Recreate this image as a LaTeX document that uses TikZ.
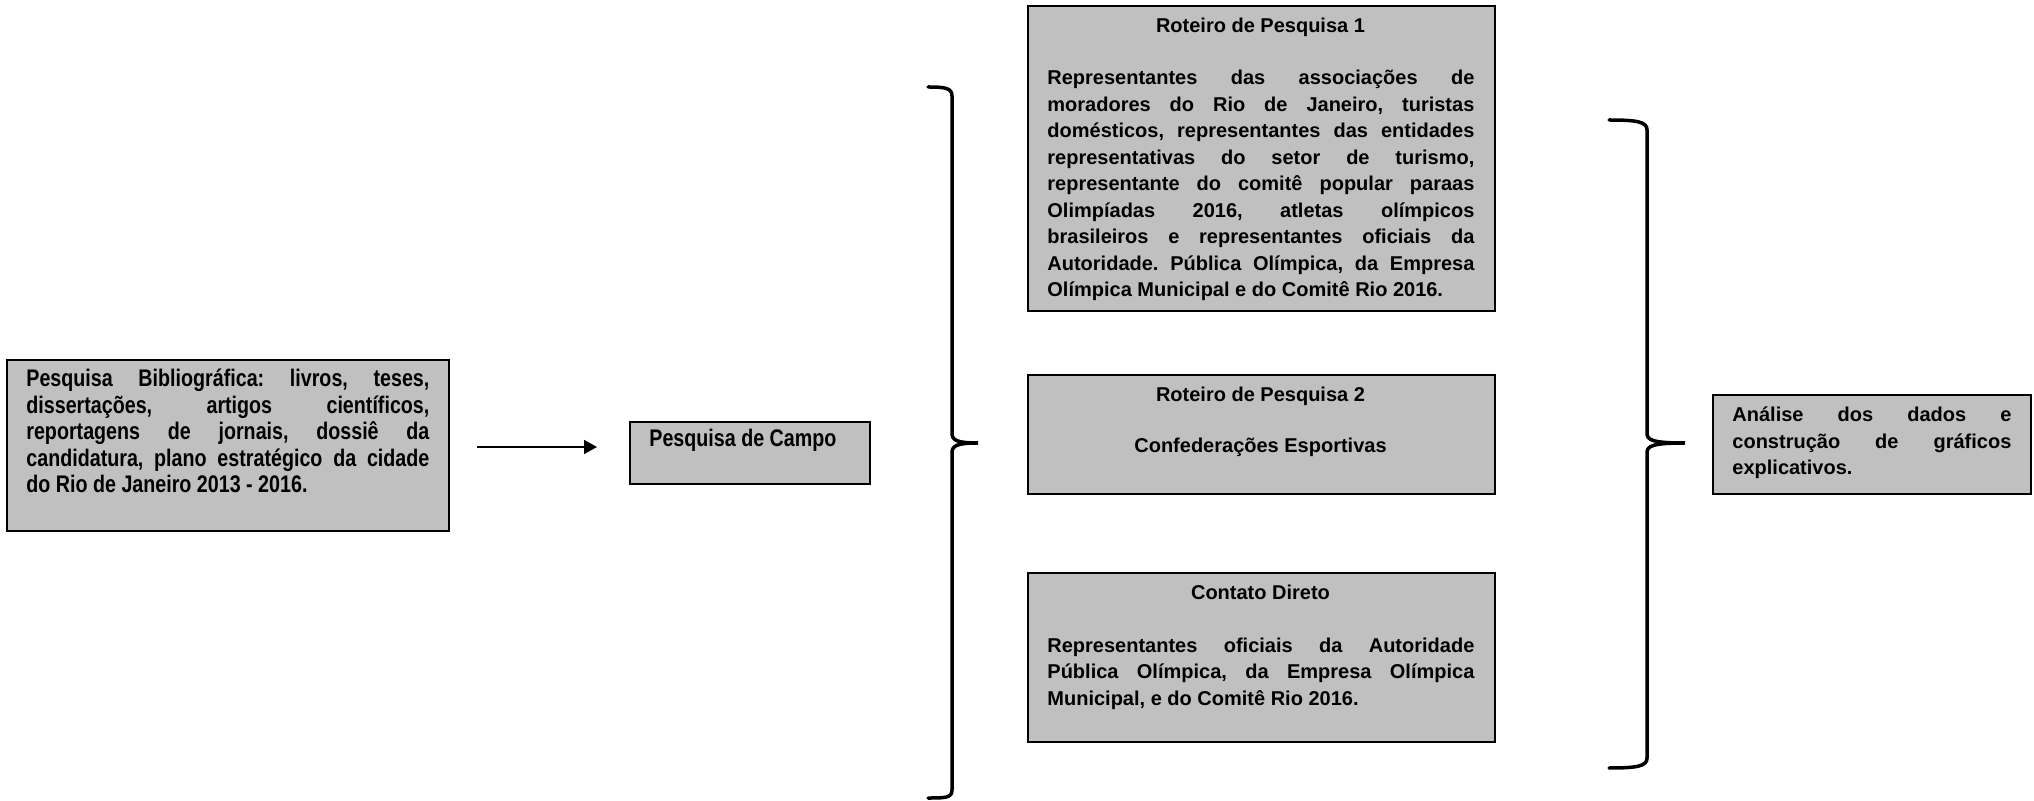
\documentclass[tikz,border=0pt]{standalone}
\usepackage{fontspec}
\setmainfont{Liberation Sans}
\newfontfamily\narrowfont[FakeStretch=0.82]{Liberation Sans}
\usetikzlibrary{arrows.meta}
\frenchspacing
\definecolor{boxgray}{HTML}{C0C0C0}
\tikzset{
  frame/.style={draw=black, line width=1pt, fill=boxgray, inner sep=0pt, anchor=north west},
  bodytxt/.style={inner sep=0pt, anchor=base west, align=justify, font=\bfseries\fontsize{10pt}{13.25pt}\selectfont},
  narrowtxt/.style={inner sep=0pt, anchor=base west, align=justify, font=\narrowfont\bfseries\fontsize{12pt}{13.25pt}\selectfont},
  titletxt/.style={inner sep=0pt, anchor=base, font=\bfseries\fontsize{10pt}{12pt}\selectfont},
  conn/.style={line width=0.75pt, -{Triangle[length=6.5pt, width=7pt]}},
  bracepath/.style={line width=1.75pt, line cap=round}
}
\begin{document}
\begin{tikzpicture}[x=0.5pt, y=-0.5pt]
\useasboundingbox[fill=white] (0,0) rectangle (2034,801);

% boxes
\node[frame, minimum width=221pt, minimum height=85.5pt] (bib) at (6,359) {};
\node[frame, minimum width=120pt, minimum height=31pt] (campo) at (629,421) {};
\node[frame, minimum width=233.5pt, minimum height=152.5pt] (rp1) at (1027,5) {};
\node[frame, minimum width=233.5pt, minimum height=59.5pt] (rp2) at (1027,374) {};
\node[frame, minimum width=233.5pt, minimum height=84.5pt] (cd) at (1027,572) {};
\node[frame, minimum width=159pt, minimum height=49.5pt] (ana) at (1712,394) {};

% texts
\node[narrowtxt, text width=201.5pt] (bibtxt) at (26,387) {Pesquisa Bibliográfica: livros, teses,\linebreak dissertações, artigos científicos,\linebreak reportagens de jornais, dossiê da\linebreak candidatura, plano estratégico da cidade\linebreak do Rio de Janeiro 2013 - 2016.};
\node[narrowtxt, anchor=base west] (campotxt) at (649,447) {Pesquisa de Campo};

\node[titletxt] (rp1title) at (1260.5,33) {Roteiro de Pesquisa 1};
\node[bodytxt, text width=213.5pt] (rp1txt) at (1047,85) {Representantes das associações de\linebreak moradores do Rio de Janeiro, turistas\linebreak domésticos, representantes das entidades\linebreak representativas do setor de turismo,\linebreak representante do comitê popular paraas\linebreak Olimpíadas 2016, atletas olímpicos\linebreak brasileiros e representantes oficiais da\linebreak Autoridade. Pública Olímpica, da Empresa\linebreak Olímpica Municipal e do Comitê Rio 2016.};

\node[titletxt] (rp2title) at (1260.5,402) {Roteiro de Pesquisa 2};
\node[titletxt] (rp2txt) at (1260.5,453) {Confederações Esportivas};

\node[titletxt] (cdtitle) at (1260.5,600) {Contato Direto};
\node[bodytxt, text width=213.5pt] (cdtxt) at (1047,652) {Representantes oficiais da Autoridade\linebreak Pública Olímpica, da Empresa Olímpica\linebreak Municipal, e do Comitê Rio 2016.};

\node[bodytxt, text width=139.5pt] (anatxt) at (1732,422) {Análise dos dados e\linebreak construção de gráficos\linebreak explicativos.};

% arrow
\coordinate (arrS) at (477,447);
\coordinate (arrE) at (597,447);
\draw[conn] (arrS) -- (arrE);

% brace 1
\draw[bracepath] (928,87) .. controls (945,87) and (952,88) .. (952,96) -- (952,433)
  .. controls (952,440) and (956,443) .. (978,443)
  .. controls (956,443) and (952,446) .. (952,453) -- (952,790)
  .. controls (952,798) and (945,798) .. (928,798);
% brace 2
\draw[bracepath] (1609,120) .. controls (1638,120) and (1647,122) .. (1647,130) -- (1647,433)
  .. controls (1647,440) and (1652,443) .. (1685,443)
  .. controls (1652,443) and (1647,446) .. (1647,453) -- (1647,758)
  .. controls (1647,766) and (1638,768) .. (1609,768);
\end{tikzpicture}
\end{document}
